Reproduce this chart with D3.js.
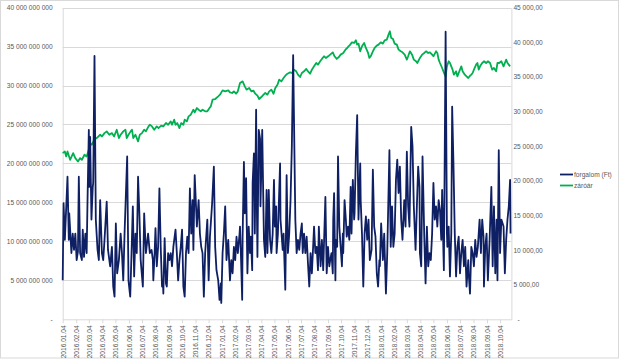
<!DOCTYPE html>
<html><head><meta charset="utf-8">
<script src="https://cdn.jsdelivr.net/npm/d3@7"></script>
<style>body{margin:0;background:#fff}svg{display:block}text{font-family:"Liberation Sans",Arial,sans-serif}</style>
</head><body>
<script>
// ---- data ----
const startDate = "2016-01-04";
const endDayOffset = 1030;
const tickLabels = ["2016.01.04","2016.02.04","2016.03.04","2016.04.04","2016.05.04","2016.06.04","2016.07.04","2016.08.04","2016.09.04","2016.10.04","2016.11.04","2016.12.04","2017.01.04","2017.02.04","2017.03.04","2017.04.04","2017.05.04","2017.06.04","2017.07.04","2017.08.04","2017.09.04","2017.10.04","2017.11.04","2017.12.04","2018.01.04","2018.02.04","2018.03.04","2018.04.04","2018.05.04","2018.06.04","2018.07.04","2018.08.04","2018.09.04","2018.10.04"];
const leftTicks = [0,5e9,10e9,15e9,20e9,25e9,30e9,35e9,40e9];
const rightTicks = [0,5000,10000,15000,20000,25000,30000,35000,40000,45000];
const seriesNames = ["forgalom (Ft)","záróár"];
// forgalom: day offset from start, value in billion Ft
const forgalomDays = [0,2,5,11,14,15,20,23,26,29,32,35,37,40,44,46,49,52,55,57,60,61,63,66,69,70,73,76,80,83,86,90,93,96,101,104,109,113,116,119,122,125,129,133,136,139,142,148,151,155,158,161,164,167,170,173,176,179,184,187,191,196,
200,204,207,208,211,213,216,219,222,225,228,230,231,234,237,239,242,245,248,251,254,259,262,265,268,271,274,277,280,283,286,289,292,295,298,300,303,308,312,315,318,321,324,327,332,335,338,343,347,350,353,357,360,363,364,367,370,373,376,380,384,387,390,393,396,399,402,406,
407,409,412,413,416,418,421,424,427,430,432,435,436,439,441,444,445,447,450,453,454,458,461,462,465,468,470,473,476,479,482,485,487,490,491,494,499,500,505,507,511,514,517,520,523,526,529,533,534,537,540,543,546,549,551,554,557,560,563,566,569,572,577,580,583,586,588,592,595,598,603,606,609,612,
614,617,620,621,623,626,627,630,632,635,638,641,643,644,647,650,652,655,658,661,663,666,669,670,673,676,679,683,684,687,690,693,696,699,702,705,709,712,715,718,721,724,727,728,731,735,738,742,745,750,753,756,759,762,765,768,771,774,777,780,784,787,790,793,796,800,803,806,810,813,816,819,
820,823,826,830,833,836,839,842,845,848,851,854,857,860,863,866,869,871,874,875,879,882,883,886,889,892,894,897,900,903,906,909,912,915,918,921,924,927,931,932,935,938,941,944,947,950,953,957,960,963,966,967,970,973,976,980,984,987,990,993,996,998,1001,1004,1007,1012,1015,1018,1021,1024,1027,1028];
const forgalomBn = [5.0,14.9,10.2,18.3,10.2,13.6,8.5,11.0,8.9,11.0,7.6,8.7,18.3,8.5,7.6,11.5,8.0,11.0,8.5,15.3,24.3,17.0,23.4,12.8,17.0,17.5,33.8,12.8,8.9,7.6,15.3,8.5,7.6,10.2,15.1,8.9,6.8,9.3,4.2,2.9,12.3,5.9,7.6,11.0,8.5,5.0,11.0,20.9,5.0,2.9,8.5,14.5,5.5,11.0,8.5,18.3,13.6,7.6,4.2,13.6,8.5,11.0,
8.5,8.9,7.6,5.0,8.5,11.7,6.8,9.3,16.8,9.3,4.2,5.0,3.3,10.4,4.6,4.2,8.5,7.6,8.5,6.8,9.3,11.5,8.5,5.0,7.6,9.3,11.5,4.2,2.9,8.5,10.6,8.5,16.8,11.0,15.3,8.9,18.5,11.9,15.3,11.0,9.3,8.5,2.9,8.5,12.8,5.0,10.6,14.9,19.6,9.3,6.3,5.0,2.5,4.6,2.1,8.5,11.0,14.5,7.6,10.2,5.0,7.6,5.9,9.3,7.6,10.6,8.5,11.0,
11.9,8.5,2.5,10.6,20.2,13.6,18.1,5.9,11.9,8.5,10.6,6.3,17.5,21.3,11.0,26.9,17.9,8.0,24.3,23.2,14.5,24.3,13.6,10.2,8.0,16.6,8.5,16.6,10.2,8.5,11.0,17.9,11.9,14.5,8.5,11.0,20.0,12.8,8.9,11.0,3.8,18.5,8.5,11.0,15.3,22.2,33.9,17.0,12.8,8.5,10.2,8.9,11.0,12.3,8.5,11.0,8.5,10.6,7.2,4.2,8.5,5.9,11.9,8.5,9.3,6.3,11.9,6.8,10.2,6.3,15.7,5.9,9.3,6.8,
7.6,8.5,5.9,12.8,16.2,5.0,10.2,9.3,20.9,11.9,9.3,6.8,11.0,8.5,15.3,12.8,10.6,11.9,10.2,17.0,11.0,17.9,12.8,13.6,21.3,26.2,12.8,20.0,15.3,11.0,4.2,11.0,13.2,10.2,12.8,7.6,8.9,19.2,11.9,10.6,5.9,4.2,7.6,6.8,12.3,7.6,11.0,3.3,8.5,21.7,9.3,14.5,9.3,11.0,17.9,20.5,16.2,19.6,12.8,10.2,15.3,11.9,21.5,14.5,11.9,24.7,22.2,14.5,8.9,14.5,19.6,17.0,
8.5,6.8,20.9,10.6,4.6,11.9,6.8,8.5,7.6,11.0,17.5,12.8,14.5,11.9,15.3,14.0,10.2,16.6,8.5,6.3,36.9,11.0,9.3,11.9,5.5,11.0,27.3,20.0,11.0,5.5,9.3,10.6,5.9,8.5,10.2,6.8,9.3,4.2,7.6,5.9,3.3,9.3,8.5,6.8,10.2,8.0,9.3,12.8,8.5,12.8,10.6,4.2,9.3,11.0,5.0,10.2,17.0,6.8,14.5,5.9,12.8,5.0,21.7,8.5,12.8,11.9,5.9,10.2,12.8,14.5,17.9,11.0];
// záróár: day offset from start, value in thousand Ft
const zaroarDays = [0,5,8,11,17,24,29,35,40,44,50,55,60,63,67,72,78,86,90,96,101,107,113,118,124,129,133,139,144,147,151,156,159,162,167,173,177,182,187,191,197,
200,205,210,216,220,226,231,237,242,248,251,256,259,263,268,272,277,280,285,289,294,300,303,308,312,317,321,327,332,337,340,344,350,357,361,367,373,380,384,389,393,398,402,
407,413,418,422,428,433,438,442,447,451,456,461,465,470,474,479,484,488,493,497,502,507,511,516,522,526,531,536,540,545,549,554,559,563,568,572,577,582,586,591,595,600,604,611,
614,620,624,629,634,638,644,649,653,660,664,669,673,676,679,683,687,692,696,701,704,707,712,716,721,725,730,735,739,744,748,751,754,758,762,767,771,776,780,785,790,793,797,802,806,811,814,
820,825,830,834,839,843,848,851,857,860,863,866,871,874,877,879,882,886,889,892,895,898,903,906,909,912,915,918,923,927,931,935,938,941,944,949,952,955,958,963,967,972,976,981,986,990,995,998,1002,1007,1012,1015,1018,1021,1024,1027];
const zaroarK = [23.99,24.23,23.51,24.23,23.03,23.99,23.27,22.79,23.27,23.03,23.75,23.51,24.47,25.44,25.2,25.92,26.16,26.64,26.4,26.88,27.13,26.64,26.88,26.4,27.37,26.16,26.64,27.13,27.37,26.16,26.64,27.13,27.37,26.16,26.64,25.68,26.64,26.88,27.37,27.13,27.85,
28.09,27.85,27.37,27.85,27.61,27.95,27.85,28.33,28.09,28.57,28.09,28.82,28.09,28.33,27.61,28.33,28.09,28.82,28.57,29.3,29.54,30.26,29.87,30.5,30.26,30.02,30.26,30.02,30.02,30.5,30.74,31.71,31.8,32.19,32.43,33.05,32.91,33.05,32.76,32.67,32.91,32.57,32.91,
34.11,34.35,33.63,33.15,33.39,32.91,33.0,32.57,32.28,31.8,32.09,32.43,32.67,32.43,32.91,33.15,32.57,33.39,33.87,34.6,34.35,34.84,35.17,35.46,35.65,35.56,36.04,35.8,35.32,34.98,35.56,35.8,36.14,35.8,35.46,36.04,36.52,37.0,36.76,37.25,37.59,37.97,37.73,38.06,
38.21,38.54,37.97,37.59,37.87,38.21,38.45,38.93,39.17,39.65,39.99,39.9,40.28,39.65,39.8,38.69,39.41,39.9,39.17,38.45,37.73,37.97,38.69,39.17,39.51,39.65,39.99,39.8,40.28,40.38,41.1,41.58,40.62,40.48,39.8,39.65,38.93,38.69,38.54,38.21,37.49,37.97,38.69,38.21,37.49,37.25,37.0,
37.73,38.21,38.45,38.69,38.45,38.54,38.21,37.97,38.69,38.45,37.49,37.0,36.28,35.8,35.32,35.08,36.52,37.25,37.0,36.52,36.04,35.32,35.8,35.08,35.56,36.04,36.52,35.8,35.32,35.08,34.84,35.17,35.32,35.56,36.04,36.76,37.0,36.04,36.52,37.0,37.25,37.0,37.25,37.0,36.04,36.28,35.8,37.0,37.0,37.25,36.52,37.0,37.49,37.0,36.76,36.52];
const colors = ["#0E1F63","#00B050"];

// ---- chart ----
const W = 619, H = 360;
const svg = d3.select("body").append("svg").attr("width", W).attr("height", H);
const parse = d3.utcParse("%Y-%m-%d");
const t0 = parse(startDate);
const dayToDate = d => d3.utcDay.offset(t0, d);
const plotL = 62.7, plotR = 511.4, plotT = 7.6, plotB = 319.3;

const x = d3.scaleUtc().domain([t0, dayToDate(endDayOffset)]).range([plotL, plotR]);
const yL = d3.scaleLinear().domain([0, 40e9]).range([plotB, plotT]);
const yR = d3.scaleLinear().domain([0, 45000]).range([plotB, plotT]);

const loc = d3.formatLocale({decimal: ",", thousands: "\u00a0", grouping: [3], currency: ["", ""]});
const fL = v => v === 0 ? "-" : loc.format(",.0f")(v);
const fR = v => v === 0 ? "-" : loc.format(",.2f")(v);

// outer border
svg.append("rect").attr("x",0.5).attr("y",0.5).attr("width",W-1).attr("height",H-2.5)
  .attr("fill","none").attr("stroke","#D9D9D9");

// gridlines
svg.append("g").selectAll("line").data(leftTicks.filter(v=>v>0)).join("line")
  .attr("x1", plotL).attr("x2", plotR).attr("y1", d=>Math.round(yL(d))+0.5).attr("y2", d=>Math.round(yL(d))+0.5)
  .attr("stroke","#D9D9D9").attr("stroke-width",1);

// left axis
const gL = svg.append("g").attr("transform",`translate(${plotL},0)`)
  .call(d3.axisLeft(yL).tickValues(leftTicks).tickFormat(fL).tickSize(0).tickPadding(10));
gL.select(".domain").attr("stroke","#D9D9D9");
gL.selectAll("text").attr("fill","#595959").style("font-size","6.6px").style("font-family","'Liberation Sans',Arial,sans-serif");

// right axis
const gR = svg.append("g").attr("transform",`translate(${plotR},0)`)
  .call(d3.axisRight(yR).tickValues(rightTicks).tickFormat(fR).tickSize(0).tickPadding(2));
gR.select(".domain").attr("stroke","#D9D9D9");
gR.selectAll("text").attr("fill","#595959").style("font-size","6.6px").style("font-family","'Liberation Sans',Arial,sans-serif");
gR.selectAll(".tick").filter(d=>d===0).select("text").attr("dx",4);

// x axis
const tickDates = tickLabels.map(s => d3.utcParse("%Y.%m.%d")(s));
const gX = svg.append("g").attr("transform",`translate(0,${plotB})`)
  .call(d3.axisBottom(x).tickValues(tickDates).tickFormat((d,i)=>tickLabels[i]).tickSize(4).tickSizeOuter(0));
gX.select(".domain").attr("stroke","#D9D9D9");
gX.selectAll(".tick line").attr("stroke","#D9D9D9");
gX.selectAll("text").attr("fill","#595959").style("font-size","6.6px").style("font-family","'Liberation Sans',Arial,sans-serif")
  .attr("transform","rotate(-90)").attr("text-anchor","end").attr("x",-6).attr("y",0).attr("dy","0.35em");

// lines
const forgalomData = forgalomDays.map((d,i)=>({date: dayToDate(d), v: forgalomBn[i]*1e9}));
const zaroarData = zaroarDays.map((d,i)=>({date: dayToDate(d), v: zaroarK[i]*1000}));
svg.append("path").datum(zaroarData).attr("fill","none").attr("stroke",colors[1]).attr("stroke-width",1.8)
  .attr("stroke-linejoin","round").attr("d", d3.line().x(d=>x(d.date)).y(d=>yR(d.v)));
svg.append("path").datum(forgalomData).attr("fill","none").attr("stroke",colors[0]).attr("stroke-width",1.8)
  .attr("stroke-linejoin","round").attr("d", d3.line().x(d=>x(d.date)).y(d=>yL(d.v)));

// legend
const lg = svg.append("g").attr("transform","translate(560,174.5)");
seriesNames.forEach((n,i)=>{
  const g = lg.append("g").attr("transform",`translate(0,${i*11})`);
  g.append("line").attr("x1",0).attr("x2",13).attr("stroke",colors[i]).attr("stroke-width",1.8);
  g.append("text").attr("x",14).attr("dy","0.35em").attr("fill","#595959").style("font-size","6.6px").text(n);
});
</script>
</body></html>
